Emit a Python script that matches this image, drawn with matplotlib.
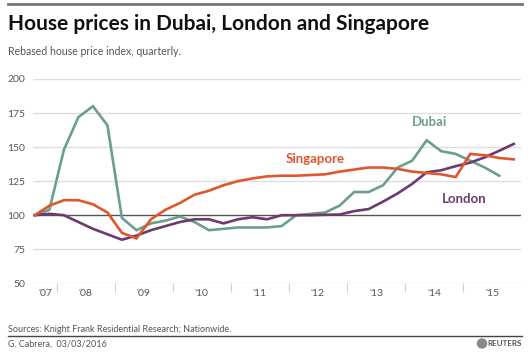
import matplotlib
matplotlib.use("Agg")
import matplotlib.pyplot as plt
from matplotlib.lines import Line2D
from matplotlib.patches import Circle
import pandas as pd

plt.rcParams['font.family'] = ['Lato', 'DejaVu Sans']

# quarterly periods, Q3 2007 .. Q4 2015
quarters = pd.period_range("2007Q3", "2015Q4", freq="Q")

dubai = [100, 104, 148, 172, 180, 166, 98, 89, 94, 96, 99, 95, 89, 90, 91, 91,
         91, 92, 100, 101, 102, 107, 117, 117, 122, 135, 140, 155, 147, 145,
         140, 135, 129]
singapore = [100, 107, 111, 111, 108, 102, 87, 83, 97, 104, 109, 115, 118, 122,
             125, 127, 128.5, 129, 129, 129.5, 130, 132, 133.5, 135, 135, 134,
             132, 131, 130, 128, 145, 144, 142, 141]
london = [100, 101, 100, 95, 90, 86, 82, 85, 89, 92, 95, 97, 97, 94, 97, 98.5,
          97, 100, 100, 100, 100.3, 100.5, 103, 104.5, 110, 116, 123, 131.5,
          133, 136, 138.6, 142.5, 147.3, 152.3]

years = list(range(2008, 2016))
year_labels = ["'07", "'08", "'09", "'10", "'11", "'12", "'13", "'14", "'15"]
yticks = [50, 75, 100, 125, 150, 175, 200]

# mid-quarter position as decimal year
x = [p.year + (p.quarter - 0.5) / 4 for p in quarters]

c_dubai = "#6b9e8b"
c_sing = "#e0572d"
c_lon = "#6c3a6f"

W, H = 532, 355
fig = plt.figure(figsize=(W / 100, H / 100), dpi=100)
fig.patch.set_facecolor("white")


def fx(px):
    return px / W


def fy(py):
    return 1 - py / H


ax = fig.add_axes([fx(33), fy(283.3), fx(521) - fx(33), fy(79) - fy(283.3)])
ax.set_xlim(2007.593, 2016.0)
ax.set_ylim(50, 200)

for v in yticks:
    if v == 100:
        continue
    ax.axhline(v, color="#dedede", lw=1.0, zorder=1)
ax.axhline(100, color="#555555", lw=1.0, zorder=2)

ax.plot(x[:len(dubai)], dubai, color=c_dubai, lw=1.9, zorder=3, solid_joinstyle="miter")
ax.plot(x, london, color=c_lon, lw=1.9, zorder=4, solid_joinstyle="miter")
ax.plot(x, singapore, color=c_sing, lw=1.9, zorder=5, solid_joinstyle="miter")

for s in ax.spines.values():
    s.set_visible(False)

ax.set_yticks(yticks)
ax.set_yticklabels([str(v) for v in yticks])
ax.tick_params(axis="y", length=0, pad=5.5, labelsize=7.5, labelcolor="#555555")

ax.set_xticks(years)
ax.set_xticklabels([""] * len(years))
ax.tick_params(axis="x", which="major", length=6.5, width=0.8, color="#d0d0d0")
ax.set_xticks([2007.8] + [y + 0.5 for y in years], minor=True)
ax.set_xticklabels(year_labels, minor=True)
ax.tick_params(axis="x", which="minor", length=0, pad=4, labelsize=7.5,
               labelcolor="#555555")

ax.text(2014.42, 168.4, "Dubai", color=c_dubai, fontsize=9.5, fontweight="bold",
        ha="center", va="center")
ax.text(2012.45, 141.3, "Singapore", color=c_sing, fontsize=9.5, fontweight="bold",
        ha="center", va="center")
ax.text(2015.02, 111.9, "London", color=c_lon, fontsize=9.5, fontweight="bold",
        ha="center", va="center")

# header
fig.add_artist(Line2D([fx(8), fx(522)], [fy(4.3), fy(4.3)], color="#777777", lw=2.0))
fig.text(fx(8), fy(30), "House prices in Dubai, London and Singapore",
         fontsize=15, fontweight="bold", color="#111111", va="baseline")
fig.text(fx(8), fy(55), "Rebased house price index, quarterly.",
         fontsize=7.6, color="#555555", va="baseline")

# footer
fig.text(fx(8), fy(332), "Sources: Knight Frank Residential Research; Nationwide.",
         fontsize=6.5, color="#555555", va="baseline")
fig.add_artist(Line2D([fx(8), fx(522)], [fy(335.7), fy(335.7)], color="#444444", lw=1.0))
fig.text(fx(8), fy(346.5), "G. Cabrera,  03/03/2016",
         fontsize=6.5, color="#555555", va="baseline")
fig.text(fx(522), fy(346.5), "REUTERS", fontsize=5.8, fontweight="bold",
         color="#555555", va="baseline", ha="right")
fig.add_artist(Circle((482 / 100, (H - 343.5) / 100), 0.045,
                      transform=fig.dpi_scale_trans, color="#888888"))

fig.savefig("out.png", dpi=100)
